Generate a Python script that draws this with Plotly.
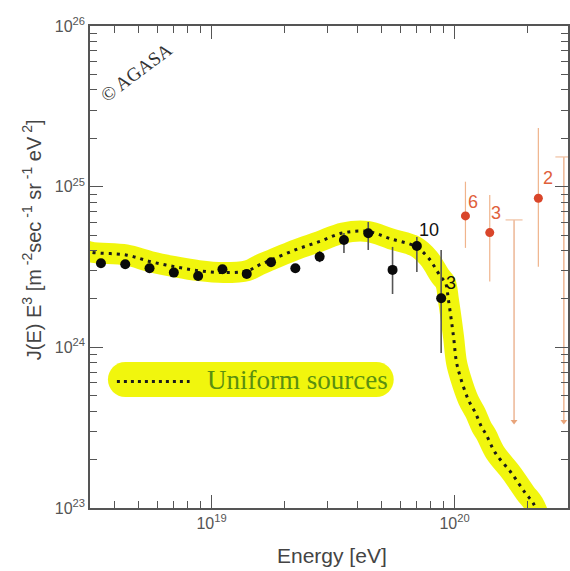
import numpy as np
import plotly.graph_objects as go

# ---------------- data (log10 values) ----------------
agasa_logE = [18.545, 18.645, 18.745, 18.845, 18.945, 19.045, 19.145, 19.245,
              19.345, 19.445, 19.545, 19.645, 19.745, 19.845, 19.945]
agasa_logJ = [24.523, 24.517, 24.492, 24.465, 24.444, 24.486, 24.457, 24.530,
              24.492, 24.564, 24.668, 24.710, 24.482, 24.631, 24.306]
agasa_top = [24.54, 24.535, 24.51, 24.485, 24.46, 24.51, 24.475, 24.55,
             24.51, 24.60, 24.712, 24.780, 24.625, 24.687, 24.606]
agasa_bot = [24.505, 24.50, 24.475, 24.445, 24.425, 24.465, 24.44, 24.51,
             24.475, 24.53, 24.587, 24.606, 24.332, 24.469, 23.965]

hi_logE = [20.045, 20.145, 20.345]
hi_logJ = [24.818, 24.714, 24.928]
hi_top = [25.031, 24.948, 25.365]
hi_bot = [24.619, 24.409, 24.502]

ul_logE = [20.245, 20.45]
ul_top = [24.793, 25.185]
ul_bot = [23.538, 23.538]

curve_logE = [18.45, 18.500, 18.648, 18.750, 18.848, 18.947, 19.049, 19.148, 19.197,
              19.246, 19.344, 19.443, 19.541, 19.643, 19.738, 19.840, 19.893,
              19.943, 19.963, 19.975, 19.996, 20.008, 20.025, 20.057, 20.086,
              20.111, 20.131, 20.168, 20.234, 20.291, 20.324, 20.345]
curve_logJ = [24.625, 24.594, 24.575, 24.533, 24.502, 24.477, 24.465, 24.477, 24.513,
              24.544, 24.606, 24.658, 24.712, 24.721, 24.675, 24.627, 24.556,
              24.440, 24.401, 24.295, 24.065, 23.909, 23.810, 23.673, 23.592,
              23.505, 23.455, 23.343, 23.218, 23.094, 23.030, 22.96]

black_labels = ["10", "3"]
black_label_logE = [19.893, 19.984]
black_label_logJ = [24.731, 24.401]
red_labels = ["6", "3", "2"]
red_label_logE = [20.078, 20.172, 20.385]
red_label_logJ = [24.905, 24.836, 25.054]

x_ticks = [1e19, 1e20]
x_ticktext = ["10<sup>19</sup>", "10<sup>20</sup>"]
y_ticks = [1e23, 1e24, 1e25, 1e26]
y_ticktext = ["10<sup>23</sup>", "10<sup>24</sup>", "10<sup>25</sup>", "10<sup>26</sup>"]

# ---------------- helpers ----------------
p = lambda a: np.power(10.0, np.array(a, dtype=float))

fig = go.Figure()

# model curve: yellow highlight + dotted black
fig.add_trace(go.Scatter(x=p(curve_logE), y=p(curve_logJ), mode="lines",
                         line=dict(color="rgba(240,245,0,0.95)", width=21, shape="spline"),
                         hoverinfo="skip", showlegend=False))
fig.add_trace(go.Scatter(x=p(curve_logE), y=p(curve_logJ), mode="lines",
                         line=dict(color="#1a1a1a", width=3, dash="3px,5px", shape="spline"),
                         hoverinfo="skip", showlegend=False))

# AGASA black points
aJ = p(agasa_logJ)
fig.add_trace(go.Scatter(x=p(agasa_logE), y=aJ, mode="markers",
                         marker=dict(color="#0a0a0a", size=10),
                         error_y=dict(type="data", symmetric=False,
                                      array=p(agasa_top) - aJ, arrayminus=aJ - p(agasa_bot),
                                      color="#555555", thickness=1.6, width=0),
                         showlegend=False))

# red points
hJ = p(hi_logJ)
fig.add_trace(go.Scatter(x=p(hi_logE), y=hJ, mode="markers",
                         marker=dict(color="#d9452a", size=9),
                         error_y=dict(type="data", symmetric=False,
                                      array=p(hi_top) - hJ, arrayminus=hJ - p(hi_bot),
                                      color="#f0b48c", thickness=1.2, width=0),
                         showlegend=False))

# upper limits
for le, t, b in zip(ul_logE, ul_top, ul_bot):
    fig.add_trace(go.Scatter(x=p([le, le]), y=p([t, b]), mode="lines",
                             line=dict(color="#e8a47a", width=1.2),
                             hoverinfo="skip", showlegend=False))
    fig.add_trace(go.Scatter(x=p([le - 0.035, le + 0.035]), y=p([t, t]), mode="lines",
                             line=dict(color="#f0c0a0", width=1.2),
                             hoverinfo="skip", showlegend=False))
    fig.add_trace(go.Scatter(x=p([le]), y=p([b]), mode="markers",
                             marker=dict(symbol="triangle-down", size=6, color="#e8a47a"),
                             hoverinfo="skip", showlegend=False))

# ---------------- annotations ----------------
ann = []
for t, le, lj in zip(black_labels, black_label_logE, black_label_logJ):
    ann.append(dict(x=le, y=lj, xref="x", yref="y", text=t, showarrow=False,
                    xanchor="center", yanchor="middle",
                    font=dict(family="Liberation Sans, Arial", size=18, color="#111111")))
for t, le, lj in zip(red_labels, red_label_logE, red_label_logJ):
    ann.append(dict(x=le, y=lj, xref="x", yref="y", text=t, showarrow=False,
                    xanchor="center", yanchor="middle",
                    font=dict(family="Liberation Sans, Arial", size=18, color="#e0603a")))

# plot area in pixels: x 90..570, y 26..508
PX0, PX1, PY0, PY1 = 90, 570, 26, 508
px = lambda x: (x - PX0) / (PX1 - PX0)
py = lambda y: (PY1 - y) / (PY1 - PY0)

ann.append(dict(x=px(333), y=py(555), xref="paper", yref="paper", text="Energy [eV]",
                showarrow=False, xanchor="center", yanchor="middle",
                font=dict(family="Liberation Sans, Arial", size=21, color="#444444")))
ann.append(dict(x=px(31), y=py(240), xref="paper", yref="paper",
                text="J(E) E<sup>3</sup> [m<sup> -2</sup>sec<sup> -1</sup> sr<sup> -1</sup> eV<sup> 2</sup>]",
                textangle=-90, showarrow=False, xanchor="center", yanchor="middle",
                font=dict(family="Liberation Sans, Arial", size=20, color="#444444")))
ann.append(dict(x=px(136), y=py(72), xref="paper", yref="paper", text="© AGASA",
                textangle=-37, showarrow=False, xanchor="center", yanchor="middle",
                font=dict(family="Liberation Serif, Times New Roman", size=19, color="#333333")))
ann.append(dict(x=px(298), y=py(380), xref="paper", yref="paper", text="Uniform sources",
                showarrow=False, xanchor="center", yanchor="middle",
                font=dict(family="Liberation Serif, Times New Roman", size=27, color="#5a8f10")))

# legend highlight blob (rounded rectangle)
x0, x1, y0, y1 = 108, 395, 362, 397
r = (y1 - y0) / 2
k = 0.5523 * r
def P(x, y):
    return f"{px(x):.5f},{py(y):.5f}"
path = (f"M {P(x0 + r, y0)} L {P(x1 - r, y0)} "
        f"C {P(x1 - r + k, y0)} {P(x1, y0 + r - k)} {P(x1, y0 + r)} "
        f"C {P(x1, y0 + r + k)} {P(x1 - r + k, y1)} {P(x1 - r, y1)} "
        f"L {P(x0 + r, y1)} "
        f"C {P(x0 + r - k, y1)} {P(x0, y0 + r + k)} {P(x0, y0 + r)} "
        f"C {P(x0, y0 + r - k)} {P(x0 + r - k, y0)} {P(x0 + r, y0)} Z")
shapes = [
    dict(type="path", path=path, xref="paper", yref="paper",
         fillcolor="rgba(240,245,0,0.95)", line=dict(width=0), layer="below"),
    dict(type="line", xref="paper", yref="paper", x0=px(117), x1=px(190), y0=py(381.5), y1=py(381.5),
         line=dict(color="#1a1a1a", width=3, dash="3px,4px")),
]

minor_x = [m * 10.0 ** d for d in (18, 19, 20) for m in range(2, 10)]
minor_y = [m * 10.0 ** d for d in (23, 24, 25) for m in range(2, 10)]

axis_common = dict(showline=True, linecolor="#555555", linewidth=1.5, mirror="ticks",
                   ticks="inside", tickcolor="#555555", tickwidth=1.3, ticklen=13,
                   showgrid=False, zeroline=False,
                   tickfont=dict(family="Liberation Sans, Arial", size=16, color="#555555"))

fig.update_layout(
    width=570, height=571,
    margin=dict(l=PX0, r=570 - PX1, t=PY0, b=571 - PY1),
    paper_bgcolor="white", plot_bgcolor="white",
    xaxis=dict(type="log", range=[18.5, 20.467], tickvals=x_ticks, ticktext=x_ticktext,
               minor=dict(tickvals=minor_x, ticks="inside", ticklen=7, tickcolor="#555555",
                          tickwidth=1.2, showgrid=False),
               **axis_common),
    yaxis=dict(type="log", range=[23, 26], tickvals=y_ticks, ticktext=y_ticktext,
               minor=dict(tickvals=minor_y, ticks="inside", ticklen=7, tickcolor="#555555",
                          tickwidth=1.2, showgrid=False),
               **axis_common),
    annotations=ann, shapes=shapes, showlegend=False,
)

fig.write_html("out.html")
